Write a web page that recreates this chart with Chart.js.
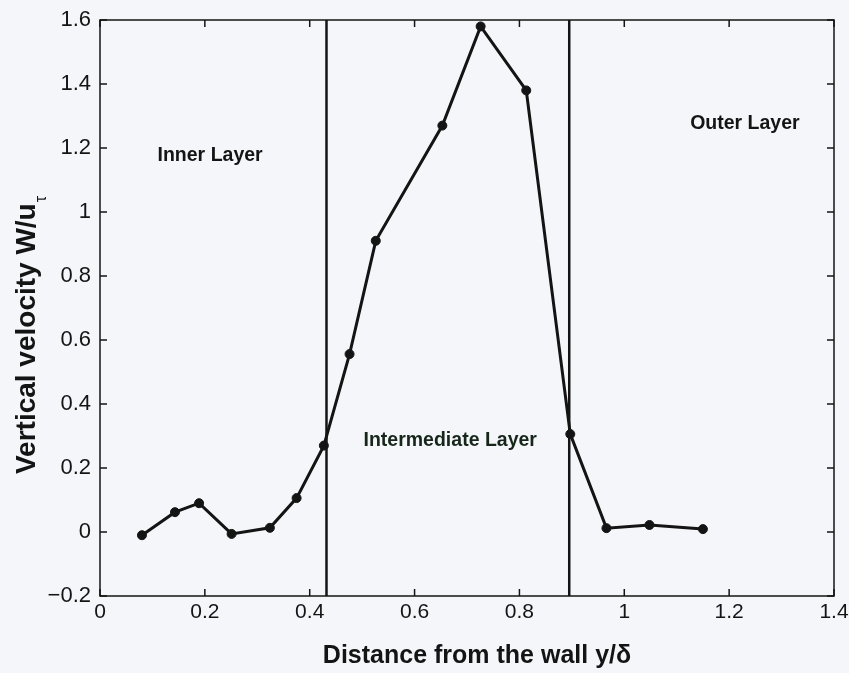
<!DOCTYPE html>
<html>
<head>
<meta charset="utf-8">
<script src="https://cdn.jsdelivr.net/npm/chart.js@4/dist/chart.umd.min.js"></script>
<style>
  html, body { margin: 0; padding: 0; background: #f5f6f9; }
  #wrap { width: 849px; height: 673px; }
</style>
</head>
<body>
<div id="wrap"><canvas id="c" width="849" height="673"></canvas></div>
<script>
// Measured profile: distance from the wall (y/δ) and vertical velocity W/u_τ
const distance = [0.080, 0.143, 0.189, 0.251, 0.324, 0.375, 0.427, 0.476, 0.526, 0.653, 0.726, 0.813, 0.897, 0.966, 1.048, 1.150];
const velocity = [-0.010, 0.062, 0.090, -0.006, 0.013, 0.106, 0.270, 0.556, 0.910, 1.270, 1.580, 1.380, 0.306, 0.012, 0.022, 0.009];

// Boundaries between the inner, intermediate and outer layers (y/δ)
const layerBounds = [0.432, 0.895];

// Layer names and where they sit, in data units [y/δ, W/u_τ]
const layerNames = ['Inner Layer', 'Intermediate Layer', 'Outer Layer'];
const layerNameAt = [[0.21, 1.175], [0.668, 0.285], [1.23, 1.275]];

// Tick labels
const xTickLabels = ['0', '0.2', '0.4', '0.6', '0.8', '1', '1.2', '1.4'];
const yTickLabels = ['\u22120.2', '0', '0.2', '0.4', '0.6', '0.8', '1', '1.2', '1.4', '1.6'];

const FONT = '"Liberation Sans", Arial, Helvetica, sans-serif';
const INK = '#141414';

// Box frame with MATLAB-style inward ticks on all four sides
const frameTicks = {
  id: 'frameTicks',
  beforeDatasetsDraw(chart) {
    const { ctx, chartArea: a, scales } = chart;
    ctx.save();
    ctx.strokeStyle = INK;
    ctx.lineWidth = 1.5;
    ctx.strokeRect(a.left, a.top, a.right - a.left, a.bottom - a.top);
    const len = 7;
    ctx.beginPath();
    scales.x.ticks.forEach(t => {
      const px = scales.x.getPixelForValue(t.value);
      ctx.moveTo(px, a.bottom); ctx.lineTo(px, a.bottom - len);
      ctx.moveTo(px, a.top); ctx.lineTo(px, a.top + len);
    });
    scales.y.ticks.forEach(t => {
      const py = scales.y.getPixelForValue(t.value);
      ctx.moveTo(a.left, py); ctx.lineTo(a.left + len, py);
      ctx.moveTo(a.right, py); ctx.lineTo(a.right - len, py);
    });
    ctx.stroke();
    ctx.restore();
  }
};

// Layer names inside the plot
const layerText = {
  id: 'layerText',
  afterDatasetsDraw(chart) {
    const { ctx, scales } = chart;
    ctx.save();
    ctx.font = 'bold 19.5px ' + FONT;
    ctx.textAlign = 'center';
    ctx.textBaseline = 'middle';
    layerNames.forEach((name, i) => {
      ctx.fillStyle = i === 1 ? '#17261a' : INK;
      ctx.fillText(name,
        scales.x.getPixelForValue(layerNameAt[i][0]),
        scales.y.getPixelForValue(layerNameAt[i][1]));
    });
    ctx.restore();
  }
};

// Axis titles: x title below the tick labels, rotated y title with a subscript tau
const axisTitles = {
  id: 'axisTitles',
  afterDraw(chart) {
    const { ctx } = chart;
    ctx.save();
    ctx.fillStyle = INK;
    ctx.textBaseline = 'middle';

    ctx.font = 'bold 25px ' + FONT;
    ctx.textAlign = 'center';
    ctx.fillText('Distance from the wall y/\u03b4', 477, 656);

    const main = 'Vertical velocity W/u';
    const sub = '\u03c4';
    const mainFont = 'bold 28px ' + FONT;
    const subFont = '16px ' + FONT;
    ctx.textAlign = 'left';
    ctx.font = mainFont;
    const wMain = ctx.measureText(main).width;
    ctx.font = subFont;
    const wSub = ctx.measureText(sub).width;
    const total = wMain + wSub + 1;
    ctx.translate(27, 335);
    ctx.rotate(-Math.PI / 2);
    ctx.font = mainFont;
    ctx.fillText(main, -total / 2, 0);
    ctx.font = subFont;
    ctx.fillText(sub, -total / 2 + wMain + 1, 15);
    ctx.restore();
  }
};

const profile = distance.map((d, i) => ({ x: d, y: velocity[i] }));
const boundaryLines = layerBounds.map(b => ({
  data: [{ x: b, y: -0.2 }, { x: b, y: 1.6 }],
  borderColor: INK,
  borderWidth: 2.5,
  pointRadius: 0,
  fill: false
}));

new Chart(document.getElementById('c'), {
  type: 'line',
  data: {
    datasets: [
      ...boundaryLines,
      {
        data: profile,
        borderColor: INK,
        borderWidth: 3,
        pointRadius: 4.5,
        pointBackgroundColor: INK,
        pointBorderColor: INK,
        pointBorderWidth: 1,
        tension: 0,
        fill: false
      }
    ]
  },
  options: {
    responsive: false,
    animation: false,
    devicePixelRatio: 1,
    layout: { padding: { top: 20, right: 15, left: 0, bottom: 0 } },
    plugins: { legend: { display: false }, tooltip: { enabled: false } },
    scales: {
      x: {
        type: 'linear',
        min: 0, max: 1.4,
        afterFit(s) { s.height = 77; s.paddingLeft = 0; s.paddingRight = 0; },
        ticks: {
          stepSize: 0.2,
          autoSkip: false,
          maxRotation: 0,
          padding: 4,
          color: INK,
          font: { family: FONT, size: 21 },
          callback: (v, i) => xTickLabels[i]
        },
        grid: { display: false, drawTicks: false, tickLength: 0 },
        border: { display: false }
      },
      y: {
        type: 'linear',
        min: -0.2, max: 1.6,
        afterFit(s) { s.width = 100; s.paddingTop = 0; s.paddingBottom = 0; },
        ticks: {
          stepSize: 0.2,
          autoSkip: false,
          padding: 9,
          color: INK,
          font: { family: FONT, size: 22 },
          callback: (v, i) => yTickLabels[i]
        },
        grid: { display: false, drawTicks: false, tickLength: 0 },
        border: { display: false }
      }
    }
  },
  plugins: [frameTicks, layerText, axisTitles]
});
</script>
</body>
</html>
